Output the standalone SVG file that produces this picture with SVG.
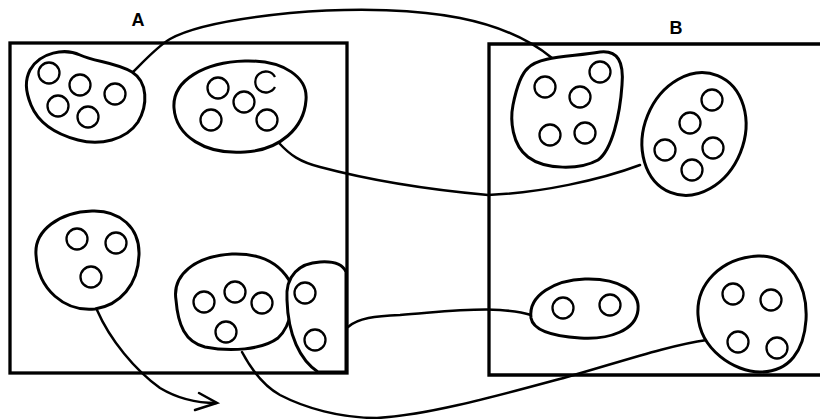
<svg xmlns="http://www.w3.org/2000/svg" width="820" height="419" viewBox="0 0 820 419">
<style>
.box{fill:none;stroke:#000;stroke-width:3.3}
.blob{fill:#fff;stroke:#000;stroke-width:3;stroke-linejoin:round}
.c{fill:none;stroke:#000;stroke-width:2.3}
.con{fill:none;stroke:#000;stroke-width:2.5;stroke-linecap:round}
.lbl{font-family:"Liberation Sans",Arial,sans-serif;font-weight:bold;font-size:18px;fill:#000}
</style>
<rect width="820" height="419" fill="#fff"/>
<g id="boxA"><rect class="box" x="10" y="43" width="337" height="330"/><text class="lbl" x="138" y="26" text-anchor="middle">A</text></g>
<g id="boxB"><path class="box" d="M822,44 L489,44 L489,375 L822,375"/><text class="lbl" x="676" y="34" text-anchor="middle">B</text></g>
<g id="connectors">
<path class="con" d="M133,72 C145,60 158,46 170,39 C195,25 240,18 290,13 C360,7 420,10 460,18 C500,26 530,40 552,58"/>
<path class="con" d="M279,143 C290,155 300,162 320,167 C350,175 410,188 488,195 C540,193 600,180 640,165"/>
<path class="con" d="M348,327 C358,318 375,316 400,315 C440,312 470,308 500,310 C515,311 525,313 531,315"/>
<path class="con" d="M242,352 C250,367 262,385 280,395 C305,408 340,418 377,418 C430,415 500,395 567,377 C620,362 670,345 707,340"/>
<path class="con" d="M97,310 C110,340 135,370 160,388 C180,400 200,403 216,403"/>
<path class="con" d="M199,393 L217,403 L195,410"/>
</g>
<g id="A1">
<path class="blob" d="M30,70 C40,52 65,48 80,55 C95,62 115,62 132,72 C148,82 148,105 138,122 C126,140 100,146 78,140 C55,134 38,122 31,105 C25,90 25,80 30,70 Z"/>
<circle class="c" cx="49" cy="73" r="10.5"/><circle class="c" cx="80" cy="85" r="10.5"/><circle class="c" cx="115" cy="94" r="10.5"/><circle class="c" cx="58" cy="106" r="10.5"/><circle class="c" cx="88" cy="117" r="10.5"/>
</g>
<g id="A2">
<path class="blob" d="M174,108 C172,80 205,62 245,61 C285,60 308,78 306,100 C304,128 280,150 245,152 C205,155 176,136 174,108 Z"/>
<circle class="c" cx="218" cy="88" r="10.5"/><path class="c" d="M275,87 A10.5,10.5 0 1 1 275,77"/><circle class="c" cx="244" cy="102" r="10.5"/><circle class="c" cx="211" cy="120" r="10.5"/><circle class="c" cx="267" cy="120" r="10.5"/>
</g>
<g id="A3">
<path class="blob" d="M36,255 C34,230 60,212 92,211 C120,210 140,228 139,255 C138,285 120,305 95,309 C65,312 38,290 36,255 Z"/>
<circle class="c" cx="77" cy="239" r="10.5"/><circle class="c" cx="116" cy="243" r="10.5"/><circle class="c" cx="91" cy="277" r="10.5"/>
</g>
<g id="A4">
<path class="blob" d="M176,300 C172,275 195,256 232,254 C260,253 278,262 289,280 C295,300 292,325 278,338 C262,350 230,352 205,347 C185,342 178,325 176,300 Z"/>
<circle class="c" cx="204" cy="302" r="10.5"/><circle class="c" cx="235" cy="292" r="10.5"/><circle class="c" cx="262" cy="303" r="10.5"/><circle class="c" cx="226" cy="332" r="10.5"/>
</g>
<g id="A5">
<path class="blob" d="M287,300 C285,275 300,263 320,262 C335,261 343,265 346,272 L346,372 L318,372 C300,360 288,335 287,300 Z"/>
<circle class="c" cx="305" cy="293" r="10.5"/><circle class="c" cx="315" cy="340" r="10.5"/>
</g>
<g id="B1">
<path class="blob" d="M528,68 C540,56 570,57 600,52 C618,50 624,62 622,85 C620,115 612,150 598,160 C580,170 545,170 528,157 C512,145 510,120 513,105 C516,90 520,75 528,68 Z"/>
<circle class="c" cx="545" cy="87" r="10.5"/><circle class="c" cx="600" cy="72" r="10.5"/><circle class="c" cx="580" cy="97" r="10.5"/><circle class="c" cx="550" cy="135" r="10.5"/><circle class="c" cx="585" cy="133" r="10.5"/>
</g>
<g id="B2">
<ellipse class="blob" cx="694" cy="134" rx="50" ry="63" transform="rotate(22 694 134)"/>
<circle class="c" cx="712" cy="100" r="10.5"/><circle class="c" cx="690" cy="123" r="10.5"/><circle class="c" cx="665" cy="150" r="10.5"/><circle class="c" cx="713" cy="148" r="10.5"/><circle class="c" cx="692" cy="170" r="10.5"/>
</g>
<g id="B3">
<path class="blob" d="M531,318 C528,295 555,280 585,279 C620,278 640,292 638,310 C636,330 610,340 580,338 C550,336 533,330 531,318 Z"/>
<circle class="c" cx="563" cy="308" r="10.5"/><circle class="c" cx="610" cy="305" r="10.5"/>
</g>
<g id="B4">
<path class="blob" d="M698,315 C696,285 720,258 758,256 C790,255 808,285 806,320 C804,350 790,372 760,372 C735,372 700,350 698,315 Z"/>
<circle class="c" cx="733" cy="294" r="10.5"/><circle class="c" cx="771" cy="300" r="10.5"/><circle class="c" cx="738" cy="342" r="10.5"/><circle class="c" cx="777" cy="348" r="10.5"/>
</g>
</svg>
